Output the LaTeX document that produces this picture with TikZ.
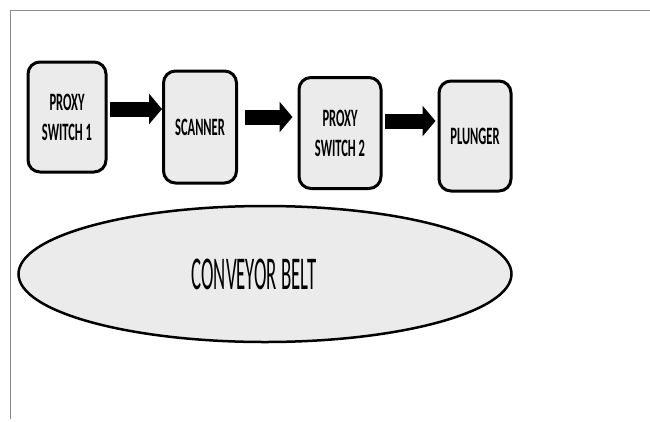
\documentclass[tikz,border=0pt]{standalone}
\usepackage{fontspec}
\usepackage{tikz}
\usetikzlibrary{arrows.meta,shapes,positioning,calc}
\newfontfamily\labelfont{Carlito}[FakeStretch=0.5]
\newfontfamily\beltfont{Carlito}[FakeStretch=0.4]
\definecolor{boxgray}{HTML}{EBEBEB}
\definecolor{framegray}{HTML}{8C8C8C}

\begin{document}
\begin{tikzpicture}[
  x=1pt, y=-1pt,
  stage/.style={
    draw, line width=3pt, rounded corners=12pt, fill=boxgray,
    align=center, inner sep=0pt,
    font=\labelfont\bfseries\fontsize{25}{30}\selectfont
  },
  belt/.style={
    draw, ellipse, line width=2.5pt, fill=boxgray, inner sep=0pt,
    minimum width=493pt, minimum height=136pt,
    font=\beltfont\fontsize{47}{50}\selectfont
  },
  flow/.style={
    line width=15pt,
    -{Triangle[length=13pt,width=30pt]}
  },
  frame/.style={draw=framegray, line width=1pt}
]
\useasboundingbox (0,0) rectangle (650,421);

% --- frame ---
\draw[frame] (650,10) -- (10,10) -- (10,419);

% --- stages ---
\node[stage, minimum width=78pt, minimum height=110pt] (prox1) at (67,117) {PROXY\\SWITCH 1};
\node[stage, minimum width=73pt, minimum height=112pt] (scan) at (200,127) {SCANNER};
\node[stage, minimum width=82pt, minimum height=111pt] (prox2) at (340,133) {PROXY\\SWITCH 2};
\node[stage, minimum width=72pt, minimum height=110pt] (plung) at (475,136) {PLUNGER};

% --- belt ---
\node[belt] (conv) at (265,274) {\hspace*{-22pt}CONVEYOR BELT};

% --- arrows ---
\draw[flow] ([xshift=2pt,yshift=8pt]prox1.east) -- ([yshift=8pt]prox1.east -| scan.west);
\draw[flow] ([xshift=7pt,yshift=10pt]scan.east) -- ([xshift=-5pt,yshift=10pt]scan.east -| prox2.west);
\draw[flow] ([xshift=2pt,yshift=12pt]prox2.east) -- ([xshift=-2pt,yshift=12pt]prox2.east -| plung.west);

\end{tikzpicture}
\end{document}
